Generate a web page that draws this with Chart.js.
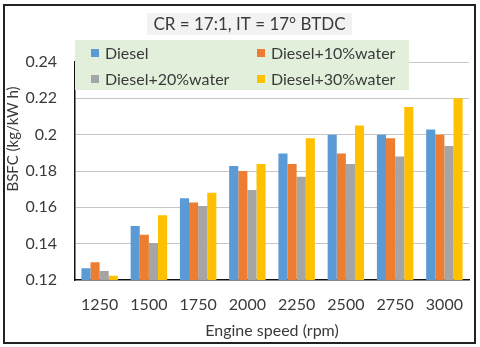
<!DOCTYPE html>
<html>
<head>
<meta charset="utf-8">
<style>
  html, body { margin: 0; padding: 0; background: #fff; }
  #wrap { width: 480px; height: 347px; }
</style>
<script src="https://cdn.jsdelivr.net/npm/chart.js@4"></script>
</head>
<body>
<div id="wrap"><canvas id="bsfcChart" width="480" height="347"></canvas></div>
<script>
// engine speed categories (rpm)
const speeds = ['1250', '1500', '1750', '2000', '2250', '2500', '2750', '3000'];

// BSFC values (kg/kW h)
const diesel   = [0.1265, 0.1497, 0.165, 0.1827, 0.1897, 0.2, 0.2, 0.2028];
const water10  = [0.1298, 0.1449, 0.1626, 0.18, 0.1838, 0.1897, 0.198, 0.2];
const water20  = [0.125, 0.1403, 0.1608, 0.1696, 0.1768, 0.1838, 0.188, 0.1938];
const water30  = [0.1224, 0.1556, 0.168, 0.1838, 0.198, 0.205, 0.2152, 0.22];

const seriesNames = ['Diesel', 'Diesel+10%water', 'Diesel+20%water', 'Diesel+30%water'];
const seriesColors = ['#5b9bd5', '#ed7d31', '#a5a5a5', '#ffc000'];

const yMin = 0.12;
const yMax = 0.24;
const yStep = 0.02;

const chartTitle = 'CR = 17:1, IT = 17\u00b0 BTDC';
const yTitle = 'BSFC (kg/kW h)';
const xTitle = 'Engine speed (rpm)';

const fontFamily = 'Lato, "Liberation Sans", sans-serif';
const textColor = '#3a3a3a';

// title box, legend box, y title and outer frame
const decorPlugin = {
    id: 'decor',
    afterDraw(chart) {
        const ctx = chart.ctx;
        ctx.save();

        // title
        ctx.fillStyle = '#f2f2f2';
        ctx.fillRect(147, 13, 205, 22);
        ctx.fillStyle = textColor;
        ctx.font = '17px ' + fontFamily;
        ctx.textAlign = 'center';
        ctx.textBaseline = 'middle';
        ctx.fillText(chartTitle, 249.5, 24.5);

        // legend
        ctx.fillStyle = '#e2efda';
        ctx.fillRect(75, 40, 334, 50);
        ctx.font = '16px ' + fontFamily;
        ctx.textAlign = 'left';
        const cols = [91, 257];
        const rows = [53, 79];
        chart.data.datasets.forEach((ds, i) => {
            const x = cols[i % 2];
            const y = rows[Math.floor(i / 2)];
            ctx.fillStyle = ds.backgroundColor;
            ctx.fillRect(x, y - 4, 8, 8);
            ctx.fillStyle = textColor;
            ctx.fillText(ds.label, x + 14, y + 1);
        });

        // y axis title
        ctx.translate(13, 139);
        ctx.rotate(-Math.PI / 2);
        ctx.font = '15px ' + fontFamily;
        ctx.textAlign = 'center';
        ctx.fillText(yTitle, 0, 0);
        ctx.setTransform(1, 0, 0, 1, 0, 0);

        // outer frame
        ctx.strokeStyle = '#222';
        ctx.lineWidth = 2;
        ctx.strokeRect(4, 5, 471, 338);
        ctx.restore();
    }
};

const ctx = document.getElementById('bsfcChart').getContext('2d');
new Chart(ctx, {
    type: 'bar',
    data: {
        labels: speeds,
        datasets: [diesel, water10, water20, water30].map((values, i) => ({
            label: seriesNames[i],
            data: values,
            backgroundColor: seriesColors[i],
            borderWidth: 0,
            barPercentage: 1,
            categoryPercentage: 0.74
        }))
    },
    options: {
        responsive: false,
        animation: false,
        layout: { padding: { top: 62, right: 11, bottom: 0, left: 0 } },
        plugins: {
            legend: { display: false },
            title: { display: false },
            tooltip: { enabled: false }
        },
        scales: {
            x: {
                grid: { display: false, drawTicks: false },
                border: { display: true, color: '#111', width: 1.5 },
                ticks: { color: textColor, padding: 15, font: { family: fontFamily, size: 16 } },
                title: {
                    display: true,
                    text: xTitle,
                    color: textColor,
                    font: { family: fontFamily, size: 16 },
                    padding: { top: 0, bottom: 7 }
                },
                afterFit(scale) { scale.height = 67; }
            },
            y: {
                min: yMin,
                max: yMax,
                grid: {
                    drawTicks: false,
                    color: c => (c.tick && Math.abs(c.tick.value - yMin) < 1e-9) ? 'rgba(0,0,0,0)' : '#c6c6c6',
                    lineWidth: 1
                },
                border: { display: true, color: '#111', width: 1.5 },
                ticks: {
                    stepSize: yStep,
                    color: textColor,
                    padding: 18,
                    font: { family: fontFamily, size: 16 },
                    callback: v => String(+v.toFixed(2))
                },
                afterFit(scale) { scale.width = 75; }
            }
        }
    },
    plugins: [decorPlugin]
});
</script>
</body>
</html>
